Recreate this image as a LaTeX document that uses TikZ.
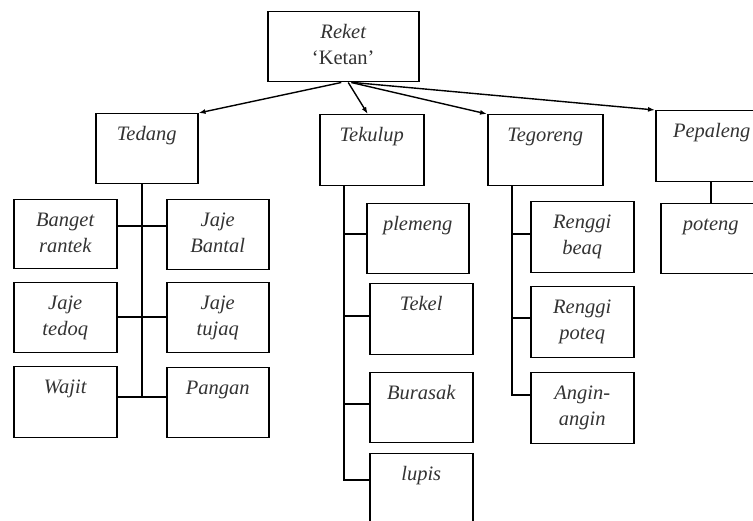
\documentclass[tikz,border=0pt]{standalone}
\usepackage{fontspec}
\setmainfont{Liberation Serif}
\usetikzlibrary{arrows.meta}
\tikzset{
  box/.style={draw, line width=1.5pt, anchor=north west, inner sep=0pt},
  lbl/.style={anchor=north, inner sep=0pt, align=center, text=black!80, font=\fontsize{20.5}{26}\selectfont\itshape},
  conn/.style={line width=1.5pt},
  arr/.style={line width=1.4pt, -{Latex[length=7pt,width=5pt]}},
}
\newcommand{\bx}[6]{%
  \node[box, minimum width=#4pt, minimum height=#5pt] (#1) at (#2,#3) {};
  \node[lbl] (#1-t) at ([yshift=-9.3pt]#1.north) {\strut #6};
}
\begin{document}
\begin{tikzpicture}[x=1pt,y=-1pt]
\useasboundingbox (0,0) rectangle (753,521);
\clip (0,0) rectangle (753,521);
\fill[white] (0,0) rectangle (753,521);
% boxes
\bx{root}{267}{11}{151}{70}{Reket\\{\upshape ‘Ketan’}}
\bx{Tedang}{95}{113}{102}{70}{Tedang}
\bx{Banget}{13}{199}{103}{69}{Banget\\rantek}
\bx{Bantal}{166}{199}{102}{70}{Jaje\\Bantal}
\bx{tedoq}{13}{282}{103}{70}{Jaje\\tedoq}
\bx{tujaq}{166}{282}{102}{70}{Jaje\\tujaq}
\bx{Wajit}{13}{366}{103}{71}{Wajit}
\bx{Pangan}{166}{367}{102}{70}{Pangan}
\bx{Tekulup}{319}{114}{104}{71}{Tekulup}
\bx{plemeng}{366}{203}{102}{70}{plemeng}
\bx{Tekel}{369}{283}{103}{71}{Tekel}
\bx{Burasak}{369}{372}{103}{70}{Burasak}
\bx{lupis}{369}{453}{103}{80}{lupis}
\bx{Tegoreng}{487}{114}{115}{71}{Tegoreng}
\bx{beaq}{530}{201}{103}{71}{Renggi\\beaq}
\bx{poteq}{530}{286}{103}{71}{Renggi\\poteq}
\bx{Angin}{530}{372}{103}{71}{Angin-\\angin}
\bx{Pepaleng}{655}{110}{112}{71}{Pepaleng}
\bx{poteng}{660}{203}{100}{70}{poteng}
% arrows from root
\draw[arr] ([xshift=-2pt]root.south) -- (Tedang.north east);
\draw[arr] ([xshift=5pt]root.south) -- ([xshift=-4pt]Tekulup.north);
\draw[arr] ([xshift=8pt]root.south) -- (Tegoreng.north west);
\draw[arr] ([xshift=10pt]root.south) -- (Pepaleng.north west);
% Tedang tree
\coordinate (a1) at (142,226);
\coordinate (a2) at (142,317);
\coordinate (a3) at (142,397);
\draw[conn] (Tedang.south -| a1) -- (a3);
\draw[conn] (Banget.east |- a1) -- (Bantal.west |- a1);
\draw[conn] (tedoq.east |- a2) -- (tujaq.west |- a2);
\draw[conn] (Wajit.east |- a3) -- (Pangan.west |- a3);
% Tekulup tree
\coordinate (b1) at (344,234);
\coordinate (b2) at (344,316);
\coordinate (b3) at (344,404);
\coordinate (b4) at (344,480);
\draw[conn] (Tekulup.south -| b1) -- (b4) -- (lupis.west |- b4);
\draw[conn] (b1) -- (plemeng.west |- b1);
\draw[conn] (b2) -- (Tekel.west |- b2);
\draw[conn] (b3) -- (Burasak.west |- b3);
% Tegoreng tree
\coordinate (c1) at (512,234);
\coordinate (c2) at (512,318);
\coordinate (c3) at (512,395);
\draw[conn] (Tegoreng.south -| c1) -- (c3) -- (Angin.west |- c3);
\draw[conn] (c1) -- (beaq.west |- c1);
\draw[conn] (c2) -- (poteq.west |- c2);
% Pepaleng tree
\coordinate (d1) at (711,0);
\draw[conn] (Pepaleng.south -| d1) -- (poteng.north -| d1);
\end{tikzpicture}
\end{document}
